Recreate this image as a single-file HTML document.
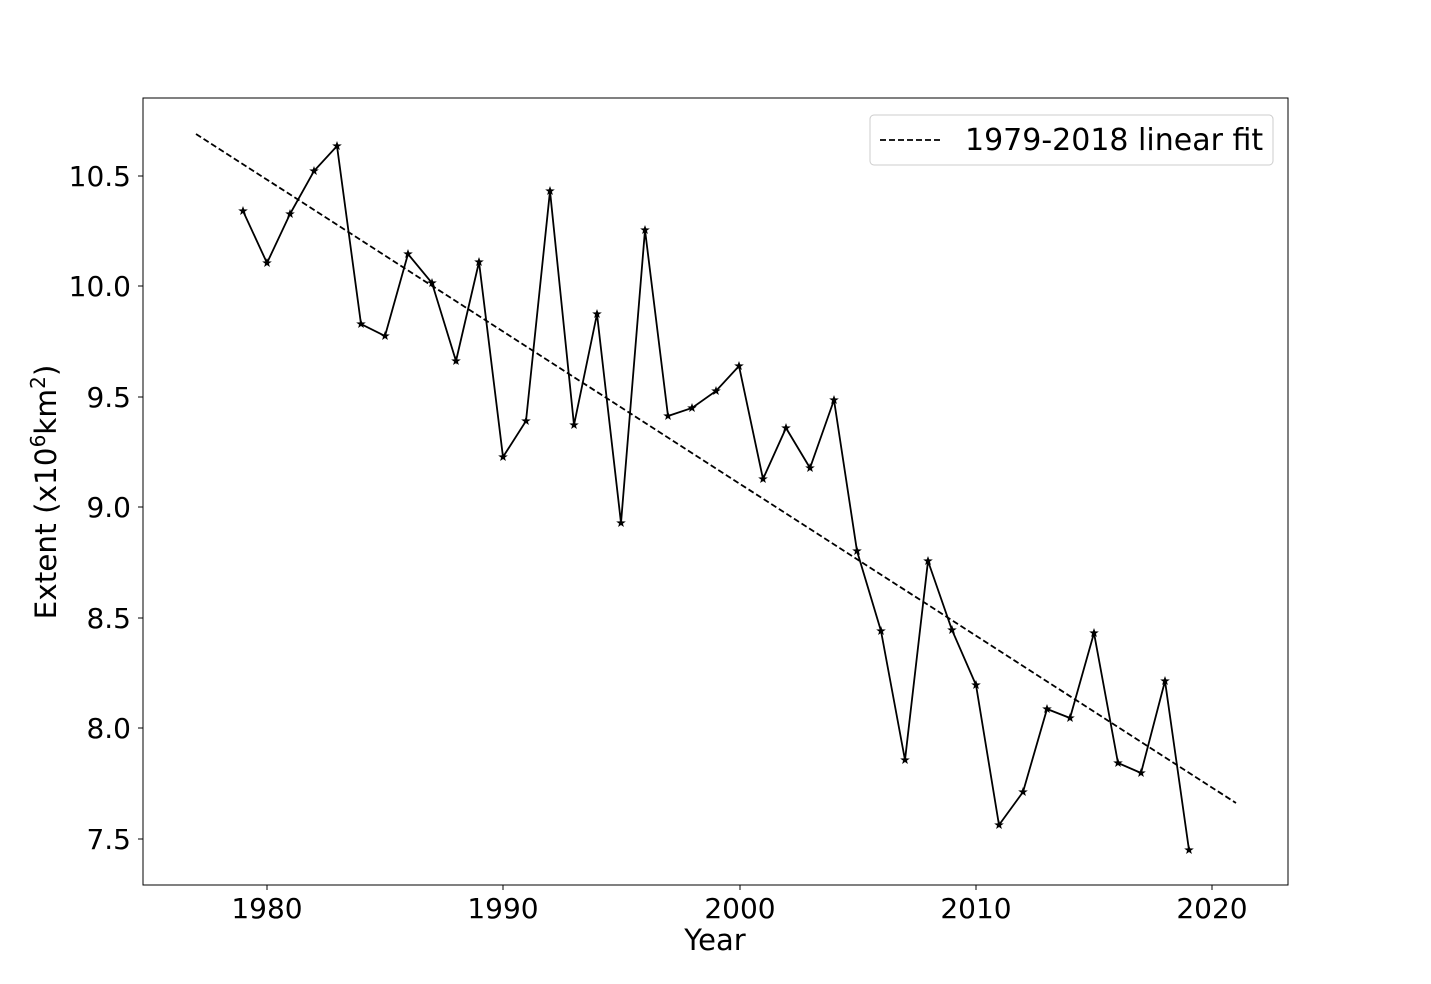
<!DOCTYPE html>
<html><head><meta charset="utf-8"><style>
body{margin:0;background:#fff;}
svg{display:block;font-family:"DejaVu Sans","Liberation Sans",sans-serif;}
</style></head><body>
<svg width="1431" height="984" viewBox="0 0 1431 984" xmlns="http://www.w3.org/2000/svg">
<defs>
<polygon id="st" points="0,-5 1.2,-1.6 4.8,-1.5 1.9,0.6 2.9,4 0,2 -2.9,4 -1.9,0.6 -4.8,-1.5 -1.2,-1.6" fill="#000"/>
</defs>
<rect x="143" y="98" width="1145" height="787" fill="none" stroke="#000" stroke-width="1"/>
<g stroke="#000" stroke-width="1">
<line x1="267" y1="885" x2="267" y2="890"/><line x1="503" y1="885" x2="503" y2="890"/>
<line x1="740" y1="885" x2="740" y2="890"/><line x1="976" y1="885" x2="976" y2="890"/>
<line x1="1212" y1="885" x2="1212" y2="890"/>
<line x1="138" y1="176" x2="143" y2="176"/><line x1="138" y1="286" x2="143" y2="286"/>
<line x1="138" y1="397" x2="143" y2="397"/><line x1="138" y1="507" x2="143" y2="507"/>
<line x1="138" y1="618" x2="143" y2="618"/><line x1="138" y1="728" x2="143" y2="728"/>
<line x1="138" y1="839" x2="143" y2="839"/>
</g>
<g font-size="28" fill="#000" text-anchor="middle">
<text x="267" y="918">1980</text><text x="503" y="918">1990</text><text x="740" y="918">2000</text>
<text x="976" y="918">2010</text><text x="1212" y="918">2020</text>
<text x="715" y="950" font-size="29">Year</text>
</g>
<g font-size="28" fill="#000" text-anchor="end">
<text x="131" y="186">10.5</text><text x="131" y="296">10.0</text><text x="131" y="407">9.5</text>
<text x="131" y="517">9.0</text><text x="131" y="628">8.5</text><text x="131" y="738">8.0</text>
<text x="131" y="849">7.5</text>
</g>
<text transform="translate(56,492) rotate(-90)" font-size="29.5" text-anchor="middle">Extent (x10<tspan dy="-11" font-size="20">6</tspan><tspan dy="11">km</tspan><tspan dy="-11" font-size="20">2</tspan><tspan dy="11">)</tspan></text>
<line x1="196" y1="134" x2="1236" y2="803" stroke="#000" stroke-width="1.8" stroke-dasharray="6,3"/>
<polyline fill="none" stroke="#000" stroke-width="1.8" points="243,211 267,263 290,214 314,171 337,146 361,324 385,336 408,254 432,283 456,361 479,262 503,457 526,421 550,191 574,425 597,314 621,523 645,230 668,416 692,408 716,391 739,366 763,479 786,428 810,468 834,400 857,551 881,631 905,760 928,561 952,630 976,685 999,825 1023,792 1047,709 1070,718 1094,633 1118,763 1141,773 1165,681 1189,850"/>
<g>
<use href="#st" x="243" y="211"/><use href="#st" x="267" y="263"/><use href="#st" x="290" y="214"/><use href="#st" x="314" y="171"/><use href="#st" x="337" y="146"/><use href="#st" x="361" y="324"/><use href="#st" x="385" y="336"/><use href="#st" x="408" y="254"/><use href="#st" x="432" y="283"/><use href="#st" x="456" y="361"/><use href="#st" x="479" y="262"/><use href="#st" x="503" y="457"/><use href="#st" x="526" y="421"/><use href="#st" x="550" y="191"/><use href="#st" x="574" y="425"/><use href="#st" x="597" y="314"/><use href="#st" x="621" y="523"/><use href="#st" x="645" y="230"/><use href="#st" x="668" y="416"/><use href="#st" x="692" y="408"/><use href="#st" x="716" y="391"/><use href="#st" x="739" y="366"/><use href="#st" x="763" y="479"/><use href="#st" x="786" y="428"/><use href="#st" x="810" y="468"/><use href="#st" x="834" y="400"/><use href="#st" x="857" y="551"/><use href="#st" x="881" y="631"/><use href="#st" x="905" y="760"/><use href="#st" x="928" y="561"/><use href="#st" x="952" y="630"/><use href="#st" x="976" y="685"/><use href="#st" x="999" y="825"/><use href="#st" x="1023" y="792"/><use href="#st" x="1047" y="709"/><use href="#st" x="1070" y="718"/><use href="#st" x="1094" y="633"/><use href="#st" x="1118" y="763"/><use href="#st" x="1141" y="773"/><use href="#st" x="1165" y="681"/><use href="#st" x="1189" y="850"/>
</g>
<rect x="870" y="115" width="403" height="50" rx="4" fill="#fff" stroke="#ccc" stroke-width="1"/>
<line x1="880" y1="140" x2="940" y2="140" stroke="#000" stroke-width="1.8" stroke-dasharray="6,3"/>
<text x="965" y="150" font-size="30">1979-2018 linear fit</text>
</svg>
</body></html>
